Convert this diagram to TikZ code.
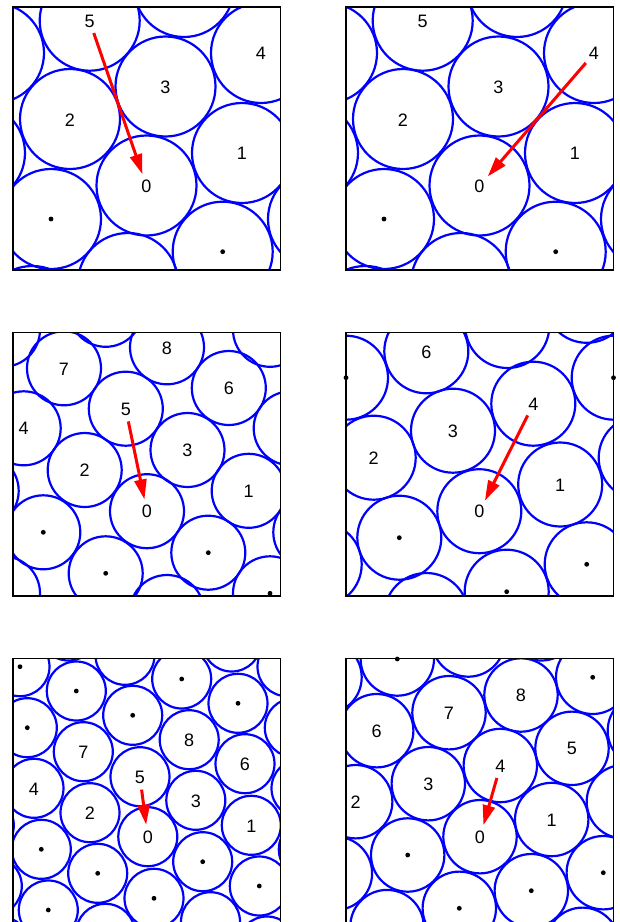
\documentclass[tikz,border=0pt]{standalone}
\usepackage{fontspec}
\setmainfont{Liberation Sans}
\usetikzlibrary{arrows.meta}
\tikzset{
  disk/.style={draw=blue, line width=2.2pt},
  frame/.style={draw=black, line width=1.5pt},
  lab/.style={font=\fontsize{18}{18}\selectfont, inner sep=0pt},
  push/.style={draw=red, line width=3pt, -{Triangle[length=20pt,width=12pt]}, shorten <=12.5pt, shorten >=12.5pt},
}
\def\PA{146.5/185.5,242/153,70/119,165.5/86.5,261/53,89.7/20.7,51/219,222.7/251.7,184/-13,128/283,-6/53,-25/153,318/219,32.3/316}
\def\PC{147/511.2,248.7/490.8,84.7/470,187.5/450,23.7/428.3,125.8/408.7,228.8/388,64/368.3,167/347.3,43.3/532.3,105.7/573.3,208.3/552.7,270/593.3,167/612,105.7/309.8,270/329.8,3/329.8,290.7/428.3,310.3/532.3,-18.3/490.8,3/593.3}
\def\PD{479.3/511.2,560.2/484.5,373.7/457.7,453/430.7,533.3/403.7,426.3/351.3,399.3/537.7,506.7/591.7,586.7/564.3,346/377.7,613.7/377.7,507.3/326,586.7/300.8,640.7/457.7,319.7/564.3,426.3/615}
\def\PE{147.8/836.7,251.3/825.3,90/812.7,195.8/800.3,34/788.3,140/776.7,245/763.7,83.3/751.7,189.2/739.7,20/666.7,76.3/691,181.7/679,238/703.3,27.3/727.7,132.7/715.3,41.3/849.3,202.7/861.7,97.7/873.3,259.3/886,154/898.3,48.3/910,125/655.3,231.7/642,68.5/631,287/666.7,294.3/727.7,301/788.3,308.3/849.3,-15.7/825.3,-7.7/886,105.5/933.3,210.5/921.7,267/946,0/946}
\def\PF{480/836.7,551.7/819.5,355.7/801.7,428.3/783.7,500.3/765.5,572/748.3,376.7/730.7,449/712.7,521/695,397.3/659,592.7/677.3,407.7/855,603.3/872.7,531.3/890.7,459.3/908.3,468.3/640,325/677.3,335.4/873.3,387/926.6,582.6/944.3,314.9/944.3,623.4/801.7,644.4/730.7,541.3/623.8}
\begin{document}
\begin{tikzpicture}[x=1pt,y=-1pt]
\useasboundingbox (0,0) rectangle (620,922);
\fill[white] (0,0) rectangle (620,922);
% ---------- panel 1
\begin{scope}
  \clip (13,7) rectangle (280.3,270);
  \foreach \x/\y in \PA {\draw[disk] (\x,\y) circle[radius=50pt];}
\end{scope}
\draw[frame] (13,7) rectangle (280.3,270);
\foreach \x/\y in {51/219,222.7/251.7} {\fill (\x,\y) circle[radius=2.4pt];}
\node[lab] (a0) at (146.5,186) {0};
\node[lab] (a1) at (242,153.5) {1};
\node[lab] (a2) at (70,120) {2};
\node[lab] (a3) at (165.5,87) {3};
\node[lab] (a4) at (261,53.5) {4};
\node[lab] (a5) at (89.7,21.2) {5};
\draw[push] (a5.center) -- (a0.center);
% ---------- panel 2
\begin{scope}[xshift=333pt]
  \begin{scope}
    \clip (13,7) rectangle (280.3,270);
    \foreach \x/\y in \PA {\draw[disk] (\x,\y) circle[radius=50pt];}
  \end{scope}
  \draw[frame] (13,7) rectangle (280.3,270);
  \foreach \x/\y in {51/219,222.7/251.7} {\fill (\x,\y) circle[radius=2.4pt];}
  \node[lab] (b0) at (146.5,186) {0};
  \node[lab] (b1) at (242,153.5) {1};
  \node[lab] (b2) at (70,120) {2};
  \node[lab] (b3) at (165.5,87) {3};
  \node[lab] (b4) at (261,53.5) {4};
  \node[lab] (b5) at (89.7,21.2) {5};
  \draw[push] (b4.center) -- (b0.center);
\end{scope}
% ---------- panel 3
\begin{scope}
  \clip (13,332.5) rectangle (280.3,596);
  \foreach \x/\y in \PC {\draw[disk] (\x,\y) circle[radius=37pt];}
\end{scope}
\draw[frame] (13,332.5) rectangle (280.3,596);
\foreach \x/\y in {43.3/532.3,105.7/573.3,208.3/552.7,270/593.3} {\fill (\x,\y) circle[radius=2.4pt];}
\node[lab] (c0) at (147,511.7) {0};
\node[lab] (c1) at (248.7,491.3) {1};
\node[lab] (c2) at (84.7,470.5) {2};
\node[lab] (c3) at (187.5,450.5) {3};
\node[lab] (c4) at (23.7,428.8) {4};
\node[lab] (c5) at (125.8,409.2) {5};
\node[lab] (c6) at (228.8,388.5) {6};
\node[lab] (c7) at (64,368.8) {7};
\node[lab] (c8) at (167,347.8) {8};
\draw[push] (c5.center) -- (c0.center);
% ---------- panel 4
\begin{scope}
  \clip (346,332.5) rectangle (613.5,596);
  \foreach \x/\y in \PD {\draw[disk] (\x,\y) circle[radius=42pt];}
\end{scope}
\draw[frame] (346,332.5) rectangle (613.5,596);
\foreach \x/\y in {399.3/537.7,506.7/591.7,586.7/564.3,346/377.7,613.5/377.7} {\fill (\x,\y) circle[radius=2.4pt];}
\node[lab] (d0) at (479.3,511.7) {0};
\node[lab] (d1) at (560.2,485) {1};
\node[lab] (d2) at (373.7,458.2) {2};
\node[lab] (d3) at (453,431.2) {3};
\node[lab] (d4) at (533.3,404.2) {4};
\node[lab] (d6) at (426.3,351.8) {6};
\draw[push] (d4.center) -- (d0.center);
% ---------- panel 5
\begin{scope}
  \clip (13,658.3) rectangle (280.3,924);
  \foreach \x/\y in \PE {\draw[disk] (\x,\y) circle[radius=29.5pt];}
\end{scope}
\draw[frame] (13,924) -- (13,658.3) -- (280.3,658.3) -- (280.3,924);
\foreach \x/\y in {20/666.7,76.3/691,181.7/679,238/703.3,27.3/727.7,132.7/715.3,41.3/849.3,202.7/861.7,97.7/873.3,259.3/886,154/898.3,48.3/910} {\fill (\x,\y) circle[radius=2.4pt];}
\node[lab] (e0) at (147.8,837.2) {0};
\node[lab] (e1) at (251.3,825.8) {1};
\node[lab] (e2) at (90,813.2) {2};
\node[lab] (e3) at (195.8,800.8) {3};
\node[lab] (e4) at (34,788.8) {4};
\node[lab] (e5) at (140,777.2) {5};
\node[lab] (e6) at (245,764.2) {6};
\node[lab] (e7) at (83.3,752.2) {7};
\node[lab] (e8) at (189.2,740.2) {8};
\draw[push] (e5.center) -- (e0.center);
% ---------- panel 6
\begin{scope}
  \clip (346,658.3) rectangle (613.5,924);
  \foreach \x/\y in \PF {\draw[disk] (\x,\y) circle[radius=36.7pt];}
\end{scope}
\draw[frame] (346,924) -- (346,658.3) -- (613.5,658.3) -- (613.5,924);
\foreach \x/\y in {397.3/659,592.7/677.3,407.7/855,603.3/872.7,531.3/890.7,459.3/908.3} {\fill (\x,\y) circle[radius=2.4pt];}
\node[lab] (f0) at (480,837.2) {0};
\node[lab] (f1) at (551.7,820) {1};
\node[lab] (f2) at (355.7,802.2) {2};
\node[lab] (f3) at (428.3,784.2) {3};
\node[lab] (f4) at (500.3,766) {4};
\node[lab] (f5) at (572,748.8) {5};
\node[lab] (f6) at (376.7,731.2) {6};
\node[lab] (f7) at (449,713.2) {7};
\node[lab] (f8) at (521,695.5) {8};
\draw[push] (f4.center) -- (f0.center);
\end{tikzpicture}
\end{document}
